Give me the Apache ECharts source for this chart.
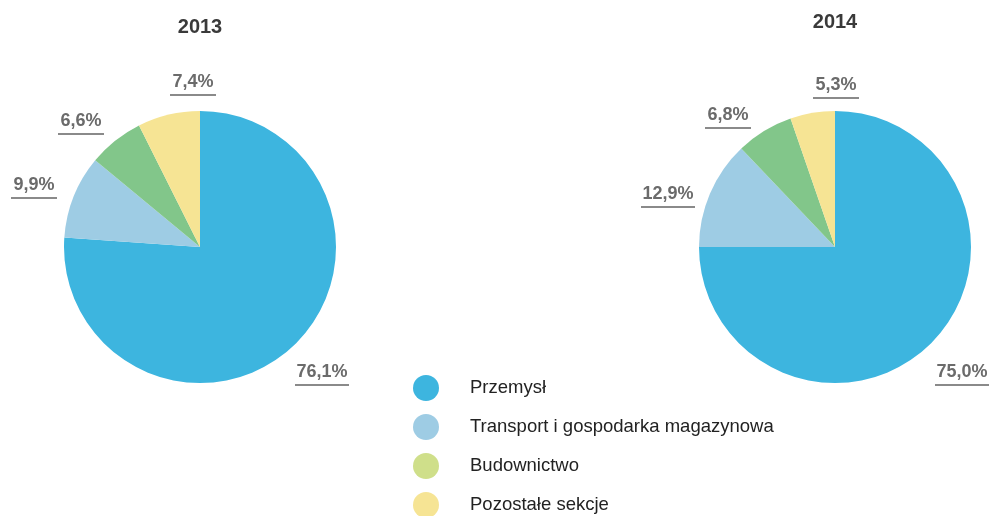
<!DOCTYPE html>
<html>
<head>
<meta charset="utf-8">
<script src="https://cdn.jsdelivr.net/npm/echarts@6/dist/echarts.min.js"></script>
<style>
  html, body { margin: 0; padding: 0; background: #fff; }
  #chart { width: 992px; height: 516px; }
</style>
</head>
<body>
<div id="chart"></div>
<script>
const categories = ['Przemysł', 'Transport i gospodarka magazynowa', 'Budownictwo', 'Pozostałe sekcje'];
const years = ['2013', '2014'];
const values2013 = [76.1, 9.9, 6.6, 7.4];
const values2014 = [75.0, 12.9, 6.8, 5.3];
const sliceColors = ['#3db5df', '#9ecce4', '#82c68a', '#f6e494'];
const legendColors = ['#3db5df', '#9ecce4', '#cfdf8a', '#f6e494'];

const chart = echarts.init(document.getElementById('chart'));

function fmt(v) {
    return v.toFixed(1).replace('.', ',') + '%';
}

// where each percentage label sits, relative to its pie centre
const labelSpots = [
    [[122, 126], [-166, -61], [-119, -125], [-7, -164]],
    [[127, 126], [-167, -52], [-107, -131], [1, -161]]
];
const pieCentres = [[200, 247], [835, 247]];

function pieSeries(name, values, centre) {
    return {
        name: name,
        type: 'pie',
        center: centre,
        radius: 136,
        startAngle: 90,
        clockwise: true,
        silent: true,
        avoidLabelOverlap: false,
        data: categories.map(function (c, i) {
            return { name: c, value: values[i], itemStyle: { color: sliceColors[i] } };
        }),
        label: {
            position: 'outside',
            formatter: function (p) {
                const t = fmt(p.value);
                return '{t|' + t + '}\n{' + (t.length > 4 ? 'u5' : 'u4') + '|}';
            },
            rich: {
                t: { fontFamily: 'Liberation Sans', fontSize: 18, fontWeight: 'bold', color: '#6b6b6b', lineHeight: 24, align: 'center' },
                u4: { width: 46, height: 2, backgroundColor: '#8a8a8a', align: 'center' },
                u5: { width: 54, height: 2, backgroundColor: '#8a8a8a', align: 'center' }
            }
        },
        labelLine: { show: false },
        labelLayout: function (p) {
            const c = pieCentres[p.seriesIndex];
            const s = labelSpots[p.seriesIndex][p.dataIndex];
            return { x: c[0] + s[0], y: c[1] + s[1], align: 'center', verticalAlign: 'middle' };
        }
    };
}

const option = {
    animation: false,
    title: [
        { text: years[0], left: 200, top: 17, textAlign: 'center', padding: 0,
          textStyle: { fontFamily: 'Liberation Sans', fontSize: 20, fontWeight: 'bold', color: '#3a3a3a' } },
        { text: years[1], left: 835, top: 12, textAlign: 'center', padding: 0,
          textStyle: { fontFamily: 'Liberation Sans', fontSize: 20, fontWeight: 'bold', color: '#3a3a3a' } }
    ],
    legend: {
        orient: 'vertical',
        left: 413,
        top: 375,
        height: 150,
        padding: 0,
        icon: 'circle',
        itemWidth: 26,
        itemHeight: 26,
        itemGap: 13,
        selectedMode: false,
        data: categories.map(function (c, i) {
            return { name: c, itemStyle: { color: legendColors[i] } };
        }),
        textStyle: { fontFamily: 'Liberation Sans', fontSize: 18.5, color: '#222', padding: [0, 0, 0, 26] }
    },
    series: [
        pieSeries(years[0], values2013, pieCentres[0]),
        pieSeries(years[1], values2014, pieCentres[1])
    ]
};

chart.setOption(option);
</script>
</body>
</html>
